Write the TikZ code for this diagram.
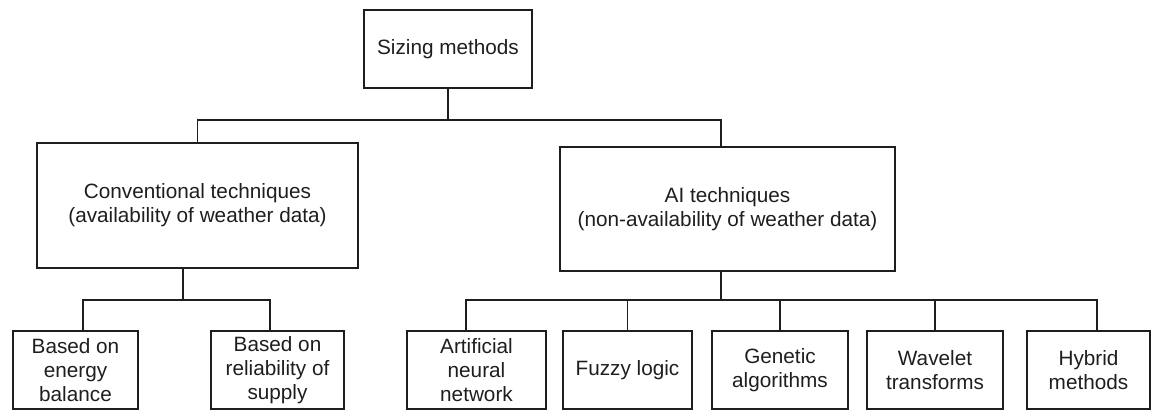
\documentclass[tikz,border=0pt]{standalone}
\usepackage{fontspec}
\setmainfont{Liberation Sans}
\definecolor{inkGray}{RGB}{30,30,30}

\begin{document}
\begin{tikzpicture}[
  sbox/.style={draw=inkGray,line width=1.1pt,align=center,inner sep=0pt,text=inkGray,font=\fontsize{11.8}{13.6}\selectfont},
  leaf/.style={sbox,minimum height=1.56cm},
  wire/.style={draw=inkGray,line width=1.1pt}]
\useasboundingbox (0,0) rectangle (23.06,-8.24);
\node[sbox,minimum width=3.36cm,minimum height=1.56cm] (sizing) at (8.96,-0.98) {Sizing methods};
\node[sbox,minimum width=6.42cm,minimum height=2.5cm] (conv) at (3.95,-4.11) {Conventional techniques\\(availability of weather data)};
\node[sbox,minimum width=6.7cm,minimum height=2.48cm] (ai) at (14.55,-4.18) {AI techniques\\(non-availability of weather data)};
\node[leaf,minimum width=2.5cm] (energy) at (1.51,-7.4) {Based on\\energy\\balance};
\node[leaf,minimum width=2.66cm] (reliab) at (5.55,-7.4) {Based on\\reliability of\\supply};
\node[leaf,minimum width=2.78cm] (ann) at (9.53,-7.4) {Artificial\\neural\\network};
\node[leaf,minimum width=2.58cm] (fuzzy) at (12.55,-7.4) {Fuzzy logic};
\node[leaf,minimum width=2.72cm] (genetic) at (15.6,-7.4) {Genetic\\algorithms};
\node[leaf,minimum width=2.72cm] (wavelet) at (18.7,-7.4) {Wavelet\\transforms};
\node[leaf,minimum width=2.46cm] (hybrid) at (21.77,-7.4) {Hybrid\\methods};
\coordinate (topy) at (0,-2.4);
\coordinate (lowy) at (0,-6.0);
\draw[wire] (sizing.south) -- (sizing.south |- topy);
\draw[wire] (conv.north) |- (sizing.south |- topy) -| ([xshift=-0.13cm]ai.north);
\draw[wire] ([xshift=-0.29cm]conv.south) -- ([xshift=-0.29cm]conv.south |- lowy);
\draw[wire] ([xshift=0.15cm]energy.north) |- ([xshift=-0.29cm]conv.south |- lowy) -| ([xshift=-0.15cm]reliab.north);
\draw[wire] ([xshift=-0.13cm]ai.south) -- ([xshift=-0.13cm]ai.south |- lowy);
\draw[wire] ([xshift=-0.21cm]ann.north) |- ([xshift=-0.13cm]ai.south |- lowy) -| ([xshift=0.17cm]hybrid.north);
\foreach \n in {fuzzy,genetic,wavelet}
  \draw[wire] (\n.north) -- (\n.north |- lowy);
\end{tikzpicture}
\end{document}
